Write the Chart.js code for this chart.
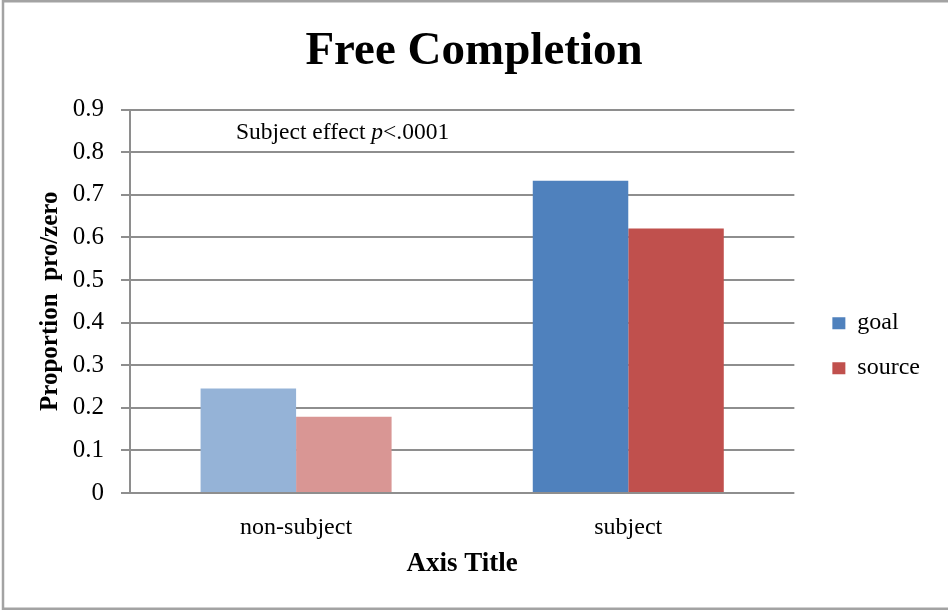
<!DOCTYPE html>
<html>
<head>
<meta charset="utf-8">
<script src="https://cdn.jsdelivr.net/npm/chart.js@4.4.1/dist/chart.umd.min.js"></script>
<style>
  html, body { margin: 0; padding: 0; background: #fff; }
  #wrap { width: 948px; height: 611px; position: relative; }
</style>
</head>
<body>
<div id="wrap"><canvas id="chart"></canvas></div>
<script>
// Data
const categories = ['non-subject', 'subject'];
const goalValues = [0.245, 0.733];
const sourceValues = [0.179, 0.621];
const yTickLabels = ['0', '0.1', '0.2', '0.3', '0.4', '0.5', '0.6', '0.7', '0.8', '0.9'];
const annotationValue = 0.83;

const SERIF = '"Liberation Serif", "Times New Roman", serif';
const GRID = '#8e8e8e';
const STRONG = ['#4F81BD', '#C0504D'];
const FADED = ['#95B3D7', '#D99694'];

// non-subject bars are drawn faded
function barColor(i) {
    return function(ctx) {
        return ctx.type === 'data' && ctx.dataIndex === 0 ? FADED[i] : STRONG[i];
    };
}

// outer frame (left, top, bottom) and the p-value note
const decor = {
    id: 'decor',
    beforeDraw(chart) {
        const c = chart.ctx;
        c.save();
        c.strokeStyle = '#a3a3a3';
        c.lineWidth = 2.5;
        c.beginPath();
        c.moveTo(chart.width, 1.2);
        c.lineTo(3, 1.2);
        c.lineTo(3, 608.8);
        c.lineTo(chart.width, 608.8);
        c.stroke();
        c.restore();
    },
    afterDraw(chart) {
        const c = chart.ctx;
        const y = chart.scales.y.getPixelForValue(annotationValue);
        let x = chart.chartArea.left + 106;
        c.save();
        c.fillStyle = '#000';
        c.textBaseline = 'alphabetic';
        c.font = '23.5px ' + SERIF;
        const a = 'Subject effect ';
        c.fillText(a, x, y);
        x += c.measureText(a).width;
        c.font = 'italic 23.5px ' + SERIF;
        c.fillText('p', x, y);
        x += c.measureText('p').width;
        c.font = '23.5px ' + SERIF;
        c.fillText('<.0001', x, y);
        c.restore();
    }
};

const ctx = document.getElementById('chart').getContext('2d');
new Chart(ctx, {
    type: 'bar',
    data: {
        labels: categories,
        datasets: [{
            label: 'goal',
            data: goalValues,
            backgroundColor: barColor(0)
        }, {
            label: 'source',
            data: sourceValues,
            backgroundColor: barColor(1)
        }]
    },
    options: {
        responsive: true,
        maintainAspectRatio: false,
        animation: false,
        layout: { padding: { left: 18, right: 18, top: 0, bottom: 0 } },
        datasets: {
            bar: { barPercentage: 1, categoryPercentage: 0.575 }
        },
        plugins: {
            title: {
                display: true,
                text: 'Free Completion',
                color: '#000',
                font: { family: SERIF, size: 47, weight: 'bold' },
                padding: { top: 23.8, bottom: 29.3 }
            },
            legend: {
                position: 'right',
                title: { display: true, text: '', padding: { top: 66, bottom: 0 }, font: { size: 12 } },
                labels: {
                    color: '#000',
                    font: { family: SERIF, size: 24 },
                    boxWidth: 13,
                    boxHeight: 12,
                    padding: 21,
                    generateLabels: function(chart) {
                        const items = Chart.defaults.plugins.legend.labels.generateLabels(chart);
                        items.forEach(function(item, i) {
                            item.fillStyle = STRONG[i];
                            item.strokeStyle = STRONG[i];
                            item.lineWidth = 0;
                        });
                        return items;
                    }
                }
            },
            tooltip: { enabled: false }
        },
        scales: {
            x: {
                grid: { display: false },
                border: { display: false },
                ticks: {
                    color: '#000',
                    font: { family: SERIF, size: 24 },
                    padding: 12
                },
                title: {
                    display: true,
                    text: 'Axis Title',
                    color: '#000',
                    font: { family: SERIF, size: 27, weight: 'bold' },
                    padding: { top: 0, bottom: 31 }
                },
                afterFit: function(scale) { scale.height = 118; }
            },
            y: {
                min: 0,
                max: 0.9,
                grid: { color: GRID, lineWidth: 2, tickLength: 9 },
                border: { color: GRID, width: 2 },
                ticks: {
                    stepSize: 0.1,
                    color: '#000',
                    font: { family: SERIF, size: 25 },
                    padding: 17,
                    callback: function(value, index) { return yTickLabels[index]; }
                },
                title: {
                    display: true,
                    text: 'Proportion  pro/zero',
                    color: '#000',
                    font: { family: SERIF, size: 25, weight: 'bold' },
                    padding: { top: 18, bottom: 0 }
                },
                afterFit: function(scale) { scale.width = 112; }
            },
            // empty spacer between plot and legend
            gap: {
                type: 'linear',
                position: 'right',
                grid: { display: false },
                border: { display: false },
                ticks: { display: false },
                afterFit: function(scale) { scale.width = 17; }
            }
        }
    },
    plugins: [decor]
});
</script>
</body>
</html>
